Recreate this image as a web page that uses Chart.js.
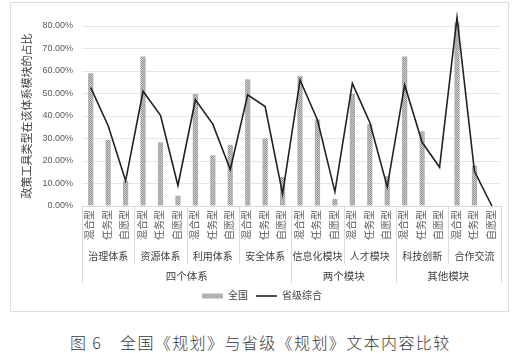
<!DOCTYPE html>
<html>
<head>
<meta charset="utf-8">
<script src="https://cdn.jsdelivr.net/npm/chart.js@4.4.0/dist/chart.umd.min.js"></script>
<style>
  body { margin: 0; background: #fff; width: 530px; height: 360px; position: relative; font-family: 'Noto Sans CJK SC', sans-serif; }
  #box { position: absolute; left: 10px; top: 2px; width: 497px; height: 308px; border: 1px solid #dedede; }
  #box canvas { display: block; }
  .cap { position: absolute; top: 330px; font-size: 16px; font-weight: 300; color: #3a3a3a; letter-spacing: 1.4px; white-space: nowrap; }
</style>
</head>
<body>
<div id="box"><canvas id="chart" width="497" height="308" style="width:497px;height:308px"></canvas></div>
<span class="cap" style="left:70px">图 6</span>
<span class="cap" style="left:120px">全国《规划》与省级《规划》文本内容比较</span>
<script>
// tool types inside each block
const types = ['混合型', '任务型', '自愿型'];
// blocks (second level)
const groups = ['治理体系', '资源体系', '利用体系', '安全体系', '信息化模块', '人才模块', '科技创新', '合作交流'];
// top level and how many blocks each covers
const sections = ['四个体系', '两个模块', '其他模块'];
const sectionSpans = [4, 2, 2];

// values in %
const national = [59.0, 29.4, 11.1, 66.4, 28.3, 4.6, 49.8, 22.6, 27.2, 56.3, 30.1, 12.9,
                  57.8, 38.4, 3.1, 49.8, 36.4, 13.3, 66.4, 33.2, 0, 81.4, 18.0, 0];
const provincial = [52.6, 35.7, 11.2, 51.0, 40.3, 9.1, 47.2, 36.4, 16.2, 49.4, 44.2, 5.4,
                    56.0, 38.2, 6.3, 54.5, 37.1, 8.5, 53.8, 28.3, 17.2, 83.8, 15.4, 0];
const yTicks = { min: 0, max: 80, step: 10 };

const labels = groups.flatMap(() => types);
const sectionCenters = [];
sectionSpans.reduce((acc, n) => { sectionCenters.push(acc + n / 2); return acc + n; }, 0);

Chart.defaults.font.family = "'Liberation Sans', 'Noto Sans CJK SC', sans-serif";

function dotPattern() {
  const c = document.createElement('canvas');
  c.width = 2; c.height = 2;
  const g = c.getContext('2d');
  g.fillStyle = '#cbcbcb'; g.fillRect(0, 0, 2, 2);
  g.fillStyle = '#979797'; g.fillRect(0, 0, 1, 1); g.fillRect(1, 1, 1, 1);
  return g.createPattern(c, 'repeat');
}

// vertical separators of the multi-level axis
const separators = {
  id: 'separators',
  afterDraw(chart) {
    const { ctx, scales: { x, x2, x3 } } = chart;
    const bounds = [0];
    sectionSpans.reduce((acc, n) => { bounds.push(acc + n); return acc + n; }, 0);
    ctx.save();
    ctx.strokeStyle = '#dadada';
    ctx.lineWidth = 1;
    for (let i = 0; i <= groups.length; i++) {
      const px = Math.round(x2.getPixelForValue(i - 0.5)) + 0.5;
      const bottom = bounds.includes(i) ? x3.bottom : x2.bottom + 1;
      ctx.beginPath();
      ctx.moveTo(px, x.top);
      ctx.lineTo(px, bottom);
      ctx.stroke();
    }
    ctx.restore();
  }
};

new Chart(document.getElementById('chart'), {
  type: 'bar',
  data: {
    labels: labels,
    datasets: [
      { label: '全国', data: national, backgroundColor: dotPattern(), borderWidth: 0,
        barPercentage: 0.3, categoryPercentage: 1, pointStyle: 'rect', clip: false, order: 2 },
      { type: 'line', label: '省级综合', data: provincial, borderColor: '#222', borderWidth: 1.6,
        backgroundColor: '#222', pointRadius: 0, pointStyle: 'line', tension: 0, fill: false, clip: false, order: 1 }
    ]
  },
  options: {
    responsive: false,
    animation: false,
    layout: { padding: { left: 10, right: 5, top: 23, bottom: 0 } },
    plugins: {
      tooltip: { enabled: false },
      legend: {
        position: 'bottom',
        labels: {
          usePointStyle: true, pointStyleWidth: 21, boxHeight: 5,
          color: '#404040', font: { size: 10 }, padding: 8,
          sort: (a, b) => a.datasetIndex - b.datasetIndex
        }
      }
    },
    scales: {
      y: {
        min: yTicks.min, max: yTicks.max,
        ticks: { stepSize: yTicks.step, callback: v => v.toFixed(2) + '%', color: '#595959', font: { size: 9 }, padding: 9 },
        grid: { color: '#e6e6e6', drawTicks: false },
        border: { display: false },
        title: { display: true, text: '政策工具类型在该体系模块的占比', color: '#404040', font: { size: 11 }, padding: { top: 0, bottom: 0 } },
        afterFit(s) { s.width = 61; }
      },
      x: {
        offset: true, weight: 0,
        grid: { display: false, drawTicks: false },
        border: { color: '#d9d9d9' },
        ticks: { color: '#595959', font: { size: 10 }, padding: 4, minRotation: 90, maxRotation: 90, autoSkip: false },
        afterFit(s) { s.height = 40; }
      },
      x2: {
        type: 'category', labels: groups, offset: true, position: 'bottom', weight: 1,
        grid: { display: false, drawTicks: false },
        border: { display: false },
        ticks: { color: '#404040', font: { size: 10 }, padding: 5, maxRotation: 0, autoSkip: false },
        afterFit(s) { s.height = 17; }
      },
      x3: {
        type: 'linear', min: 0, max: groups.length, position: 'bottom', weight: 2, offset: false,
        afterBuildTicks(s) { s.ticks = sectionCenters.map(v => ({ value: v })); },
        grid: { display: false, drawTicks: false, offset: false },
        border: { display: false },
        ticks: { callback: (v, i) => sections[i], color: '#404040', font: { size: 10.5 }, padding: 8, maxRotation: 0, autoSkip: false },
        afterFit(s) { s.height = 20; }
      }
    }
  },
  plugins: [separators]
});
</script>
</body>
</html>
